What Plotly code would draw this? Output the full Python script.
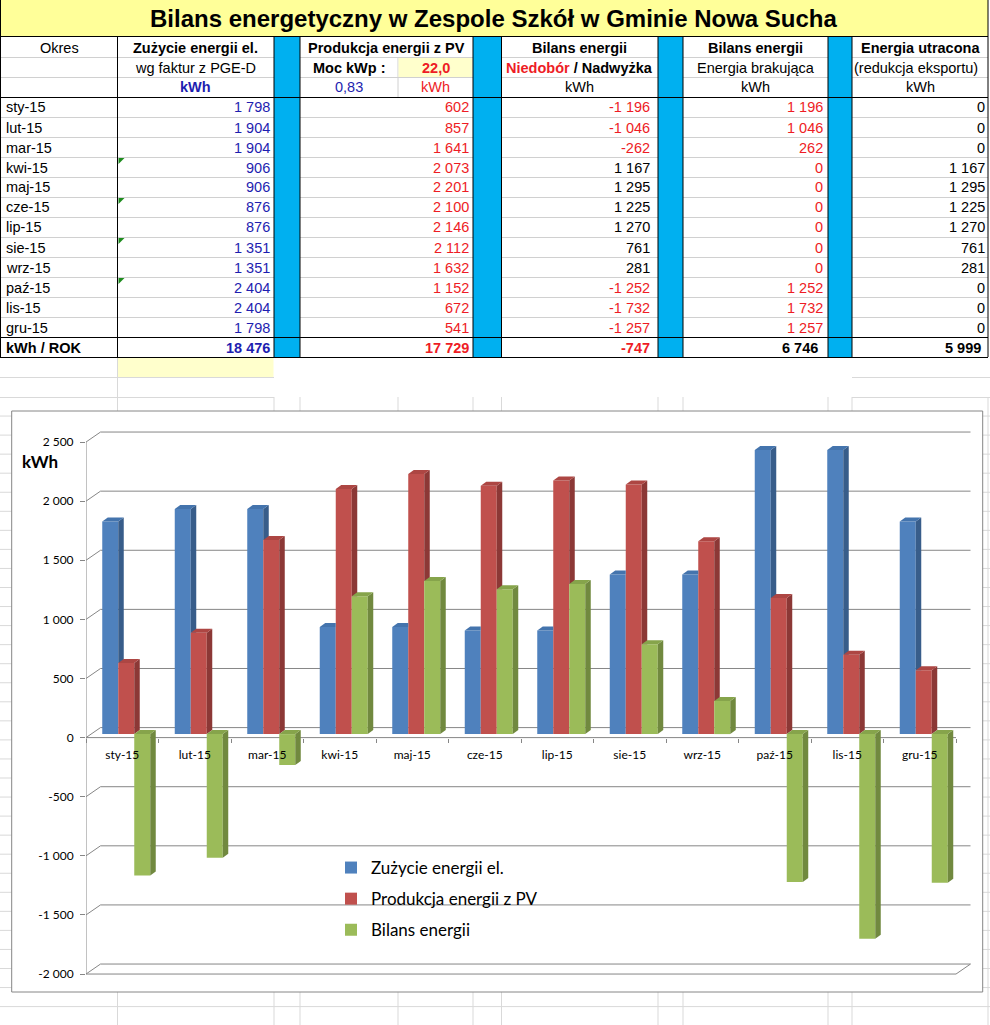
import plotly.graph_objects as go

# ---------------- data ----------------
months = ["sty-15", "lut-15", "mar-15", "kwi-15", "maj-15", "cze-15",
          "lip-15", "sie-15", "wrz-15", "paź-15", "lis-15", "gru-15"]
consumption = [1798, 1904, 1904, 906, 906, 876, 876, 1351, 1351, 2404, 2404, 1798]
production = [602, 857, 1641, 2073, 2201, 2100, 2146, 2112, 1632, 1152, 672, 541]
balance = [-1196, -1046, -262, 1167, 1295, 1225, 1270, 761, 281, -1252, -1732, -1257]
shortage = [1196, 1046, 262, 0, 0, 0, 0, 0, 0, 1252, 1732, 1257]
lost = [0, 0, 0, 1167, 1295, 1225, 1270, 761, 281, 0, 0, 0]
totals = [18476, 17729, -747, 6746, 5999]
pv_power_kwp = "22,0"
pv_factor = "0,83"
series_names = ["Zużycie energii el.", "Produkcja energii z PV", "Bilans energii"]
y_tick_vals = [-2000, -1500, -1000, -500, 0, 500, 1000, 1500, 2000, 2500]
y_tick_text = ["-2 000", "-1 500", "-1 000", "-500", "0", "500", "1 000", "1 500", "2 000", "2 500"]
error_marker_rows = [3, 5, 7, 9]

# ---------------- page geometry ----------------
FIG_W, FIG_H = 990, 1025


def fx(px):
    return px / FIG_W


def fy(py):
    return 1 - py / FIG_H


def fmt(v):
    s = f"{abs(v):,}".replace(",", " ")
    return ("-" if v < 0 else "") + s


TABLE_FONT = "Liberation Sans, Arial, sans-serif"
CHART_FONT = "Lato, Calibri, sans-serif"
TXT_BLUE = "#1E1EB0"
TXT_RED = "#EE1C25"
SHEET_GRID = "#D9D9D9"
ROW_LINE = "#D0D0D0"
SEP_BLUE = "#00B0F0"
AXIS_GRAY = "#868686"

# columns of the sheet (px)
CA, CB, CC, CD, CE, CF, CG, CH, CI, CJ, CK, CL = 0.5, 117.5, 274, 300, 398, 473, 501.5, 658, 683, 828, 852, 988
ROW_TOP = 97
ROW_H = 20
n = len(months)
SUM_TOP = ROW_TOP + ROW_H * n
SUM_BOT = SUM_TOP + ROW_H

shapes = []
annotations = []


def pline(x0, y0, x1, y1, color, width=1):
    shapes.append(dict(type="line", xref="paper", yref="paper", x0=fx(x0), y0=fy(y0),
                       x1=fx(x1), y1=fy(y1), line=dict(color=color, width=width), layer="below"))


def prect(x0, y0, x1, y1, fill, line_color=None, width=0):
    shapes.append(dict(type="rect", xref="paper", yref="paper", x0=fx(x0), y0=fy(y0),
                       x1=fx(x1), y1=fy(y1), fillcolor=fill,
                       line=dict(color=line_color or fill, width=width), layer="below"))


def text(t, x0, x1, yc, align="center", color="#000000", bold=False, size=14.5, pad=3):
    if align == "center":
        x, xa = (x0 + x1) / 2, "center"
    elif align == "left":
        x, xa = x0 + pad, "left"
    else:
        x, xa = x1 - pad, "right"
    if bold:
        t = f"<b>{t}</b>"
    annotations.append(dict(text=t, x=fx(x), y=fy(yc), xref="paper", yref="paper",
                            xanchor=xa, yanchor="middle", showarrow=False,
                            font=dict(family=TABLE_FONT, size=size, color=color)))


# ---------------- sheet gridlines below the table ----------------
for xv in [CB, CC, CD, CE, CF, CG, CH, CI, CJ, CK, CL]:
    pline(xv, 397, xv, FIG_H, SHEET_GRID)
pline(CB, SUM_BOT, CB, 397, SHEET_GRID)
for yv in [377.5, 397.5]:
    pline(0, yv, CC, yv, SHEET_GRID)
    pline(CK, yv, FIG_W, yv, SHEET_GRID)
k = 1
while 397 + 19.05 * k < FIG_H:
    yv = 397 + 19.05 * k
    pline(0, yv, FIG_W, yv, SHEET_GRID)
    k += 1
prect(CB + 0.5, SUM_BOT + 0.5, CC - 0.5, SUM_BOT + 20, "#FFFFCC")

# ---------------- table ----------------
prect(0, 0, CL, 36, "#FFFF99")
for yv in [57.5, 77.5] + [ROW_TOP + ROW_H * i + 0.5 for i in range(1, n)]:
    pline(0, yv, CL, yv, ROW_LINE)
pline(CE, 57, CE, ROW_TOP, ROW_LINE)
prect(CE + 0.5, 58, CF - 0.5, 77, "#FFFFCC")
for a, b in [(CC, CD), (CF, CG), (CH, CI), (CJ, CK)]:
    prect(a, 36, b, SUM_BOT, SEP_BLUE)
for xv in [CA, CB, CC, CD, CF, CG, CH, CI, CJ, CK, CL]:
    pline(xv, 36, xv, SUM_BOT, "#000000")
pline(CA, 0, CA, 36, "#000000")
pline(CL, 0, CL, 36, "#000000")
for yv in [36.5, ROW_TOP + 0.5, SUM_TOP + 0.5, SUM_BOT + 0.5]:
    pline(0, yv, CL, yv, "#000000")
for r in error_marker_rows:
    t0 = ROW_TOP + ROW_H * r + 1
    shapes.append(dict(type="path", xref="paper", yref="paper",
                       path=f"M {fx(CB + 1)} {fy(t0)} L {fx(CB + 7)} {fy(t0)} L {fx(CB + 1)} {fy(t0 + 6)} Z",
                       fillcolor="#1E8C1E", line=dict(width=0), layer="below"))

# title
annotations.append(dict(text="<b>Bilans energetyczny w Zespole Szkół w Gminie Nowa Sucha</b>",
                        x=fx(494), y=fy(18.5), xref="paper", yref="paper", xanchor="center",
                        yanchor="middle", showarrow=False,
                        font=dict(family=TABLE_FONT, size=24, color="#000000")))
# header rows
r1, r2, r3 = 47.5, 67.5, 87.5
text("Okres", CA, CB, r1)
text("Zużycie energii el.", CB, CC, r1, bold=True)
text("Produkcja energii z PV", CD, CF, r1, bold=True)
text("Bilans energii", CG, CH, r1, bold=True)
text("Bilans energii", CI, CJ, r1, bold=True)
text("Energia utracona", CK, CL, r1, bold=True)
text("wg faktur z PGE-D", CB, CC, r2)
text("Moc kWp :", CD, CE, r2, bold=True)
text(pv_power_kwp, CE, CF, r2, color=TXT_RED, bold=True)
text(f"<span style='color:{TXT_RED}'>Niedobór</span> / Nadwyżka", CG, CH, r2, bold=True)
text("Energia brakująca", CI, CJ, r2)
text("(redukcja eksportu)", CK - 8, CL, r2)
text("kWh", CB, CC, r3, color=TXT_BLUE, bold=True)
text(pv_factor, CD, CE, r3, color=TXT_BLUE)
text("kWh", CE, CF, r3, color=TXT_RED)
text("kWh", CG, CH, r3)
text("kWh", CI, CJ, r3)
text("kWh", CK, CL, r3)

# data rows
for i in range(n):
    yc = ROW_TOP + ROW_H * i + 10.5
    text(months[i], CA, CB, yc, align="left")
    text(fmt(consumption[i]), CB, CC, yc, align="right", color=TXT_BLUE, pad=2)
    text(fmt(production[i]), CD, CF, yc, align="right", color=TXT_RED, pad=2)
    text(fmt(balance[i]), CG, CH, yc, align="right",
         color=TXT_RED if balance[i] < 0 else "#000000", pad=6)
    text(fmt(shortage[i]), CI, CJ, yc, align="right", color=TXT_RED, pad=3)
    text(fmt(lost[i]), CK, CL, yc, align="right", pad=1)
ys = SUM_TOP + 10.5
text("kWh / ROK", CA, CB, ys, align="left", bold=True)
text(fmt(totals[0]), CB, CC, ys, align="right", color=TXT_BLUE, bold=True, pad=2)
text(fmt(totals[1]), CD, CF, ys, align="right", color=TXT_RED, bold=True, pad=2)
text(fmt(totals[2]), CG, CH, ys, align="right", color=TXT_RED, bold=True, pad=6)
text(fmt(totals[3]), CI, CJ, ys, align="right", bold=True, pad=8)
text(fmt(totals[4]), CK, CL, ys, align="right", bold=True, pad=5)

# ---------------- chart box ----------------
prect(11.7, 411, 982.7, 992, "#FFFFFF", AXIS_GRAY, 1)

# ---------------- chart axes mapping ----------------
X_LEFT_PX = 86.0
CAT_PX = 72.5
Y0_PX = 737.6
KWH_PX = 0.11822
X_RANGE = [-0.5, 11.75]
Y_RANGE = [-2100, 2700]
x_dom = [fx(X_LEFT_PX), fx(X_LEFT_PX + (X_RANGE[1] - X_RANGE[0]) * CAT_PX)]
y_dom = [fy(Y0_PX - Y_RANGE[0] * KWH_PX), fy(Y0_PX - Y_RANGE[1] * KWH_PX)]

WALL_DX = 14.5 / CAT_PX
WALL_DY = 10.0 / KWH_PX
XF0, XF1 = -0.5, n - 0.5


def dline(x0, y0, x1, y1, color=AXIS_GRAY, width=1):
    shapes.append(dict(type="line", xref="x", yref="y", x0=x0, y0=y0, x1=x1, y1=y1,
                       line=dict(color=color, width=width), layer="below"))


for v in y_tick_vals:
    dline(XF0 + WALL_DX, v + WALL_DY, XF1 + WALL_DX, v + WALL_DY)
    dline(XF0, v, XF0 + WALL_DX, v + WALL_DY)
ymin, ymax = y_tick_vals[0], y_tick_vals[-1]
dline(XF0, ymin, XF1, ymin)
dline(XF1, ymin, XF1 + WALL_DX, ymin + WALL_DY)
dline(XF0, 0, XF1, 0)
dline(XF0, ymin, XF0, ymax)

# ---------------- 3-D columns ----------------
BAR_W = 16.0 / CAT_PX
FIRST_OFF = -20.0 / CAT_PX
BAR_OFF = [FIRST_OFF + k * BAR_W for k in range(3)]
BAR_BASE = 3.5 / KWH_PX
DX = 5.5 / CAT_PX
DY = 4.0 / KWH_PX
front_colors = ["#4F81BD", "#C0504D", "#9BBB59"]
side_colors = ["#385D8A", "#8C3836", "#71893F"]
top_colors = ["#4474AD", "#AD4643", "#86A44B"]
series_vals = [consumption, production, balance]
x_idx = list(range(n))


def clip_half(poly, axis, val, keep_ge):
    out = []
    m = len(poly)
    for j in range(m):
        p, q = poly[j], poly[(j + 1) % m]
        pin = p[axis] >= val if keep_ge else p[axis] <= val
        qin = q[axis] >= val if keep_ge else q[axis] <= val
        if pin:
            out.append(p)
        if pin != qin:
            t = (val - p[axis]) / (q[axis] - p[axis])
            out.append((p[0] + t * (q[0] - p[0]), p[1] + t * (q[1] - p[1])))
    return out


def poly_area(poly):
    m = len(poly)
    return abs(sum(poly[j][0] * poly[(j + 1) % m][1] - poly[(j + 1) % m][0] * poly[j][1]
                   for j in range(m))) / 2


def subtract_rect(poly, x0, x1, y0, y1):
    mid = clip_half(clip_half(poly, 0, x0, True), 0, x1, False)
    pieces = [clip_half(poly, 0, x0, False), clip_half(poly, 0, x1, True),
              clip_half(mid, 1, y1, True), clip_half(mid, 1, y0, False)]
    return [p for p in pieces if len(p) >= 3 and poly_area(p) > 1e-6]


def add_polys(xs, ys, polys):
    for p in polys:
        xs += [pt[0] for pt in p] + [p[0][0], None]
        ys += [pt[1] for pt in p] + [p[0][1], None]


fig = go.Figure()
# front faces (bars)
for s, (name, vals) in enumerate(zip(series_names, series_vals)):
    fig.add_trace(go.Bar(x=x_idx, y=vals, base=BAR_BASE, offset=BAR_OFF[s], width=BAR_W,
                         name=name, legendgroup=f"g{s}",
                         marker=dict(color=front_colors[s], line=dict(width=0)),
                         hoverinfo="skip"))
# side and top faces, hidden where the next column's front face stands
for s, vals in enumerate(series_vals):
    sx, sy, tx, ty = [], [], [], []
    for i, v in enumerate(vals):
        xl = i + BAR_OFF[s]
        xr = xl + BAR_W
        hi = BAR_BASE + max(v, 0)
        lo = BAR_BASE + min(v, 0)
        side = [(xr, lo), (xr + DX, lo + DY), (xr + DX, hi + DY), (xr, hi)]
        top = [(xl, hi), (xl + DX, hi + DY), (xr + DX, hi + DY), (xr, hi)]
        if s + 1 < len(series_vals):
            nv = series_vals[s + 1][i]
            nxl = i + BAR_OFF[s + 1]
            rect = (nxl, nxl + BAR_W, BAR_BASE + min(nv, 0), BAR_BASE + max(nv, 0))
            side_p = subtract_rect(side, *rect)
            top_p = subtract_rect(top, *rect)
        else:
            side_p, top_p = [side], [top]
        add_polys(sx, sy, side_p)
        add_polys(tx, ty, top_p)
    fig.add_trace(go.Scatter(x=sx, y=sy, mode="lines", fill="toself", fillcolor=side_colors[s],
                             line=dict(width=0, color=side_colors[s]), showlegend=False,
                             hoverinfo="skip"))
    fig.add_trace(go.Scatter(x=tx, y=ty, mode="lines", fill="toself", fillcolor=top_colors[s],
                             line=dict(width=0, color=top_colors[s]), showlegend=False,
                             hoverinfo="skip"))

annotations.append(dict(text="<b>kWh</b>", x=fx(20), y=fy(462), xref="paper", yref="paper",
                        xanchor="left", yanchor="middle", showarrow=False,
                        font=dict(family=CHART_FONT, size=17, color="#000000")))

fig.update_layout(
    width=FIG_W, height=FIG_H,
    margin=dict(l=0, r=0, t=0, b=0),
    paper_bgcolor="#FFFFFF", plot_bgcolor="rgba(0,0,0,0)",
    barmode="overlay", hovermode=False,
    shapes=shapes, annotations=annotations,
    showlegend=True,
    legend=dict(x=fx(331), y=fy(850), xanchor="left", yanchor="top",
                bgcolor="rgba(0,0,0,0)", borderwidth=0, tracegroupgap=6,
                font=dict(family=CHART_FONT, size=17, color="#000000")),
    xaxis=dict(range=X_RANGE, domain=x_dom, anchor="free", position=fy(Y0_PX),
               tickmode="array", tickvals=x_idx, ticktext=months, ticks="",
               showgrid=False, zeroline=False, showline=False, ticklabelstandoff=8,
               tickfont=dict(family=CHART_FONT, size=12, color="#000000"),
               minor=dict(tickmode="array", tickvals=[i - 0.5 for i in range(n + 1)],
                          ticks="outside", ticklen=4, tickcolor=AXIS_GRAY, showgrid=False)),
    yaxis=dict(range=Y_RANGE, domain=y_dom, anchor="x",
               tickmode="array", tickvals=y_tick_vals, ticktext=y_tick_text,
               ticks="outside", ticklen=5, tickcolor=AXIS_GRAY,
               showgrid=False, zeroline=False, showline=False, ticklabelstandoff=4,
               tickfont=dict(family=CHART_FONT, size=12, color="#000000")),
)

fig.write_html("out.html", config={"displayModeBar": False},
               post_script="document.body.style.margin='0px';document.body.style.padding='0px';")
